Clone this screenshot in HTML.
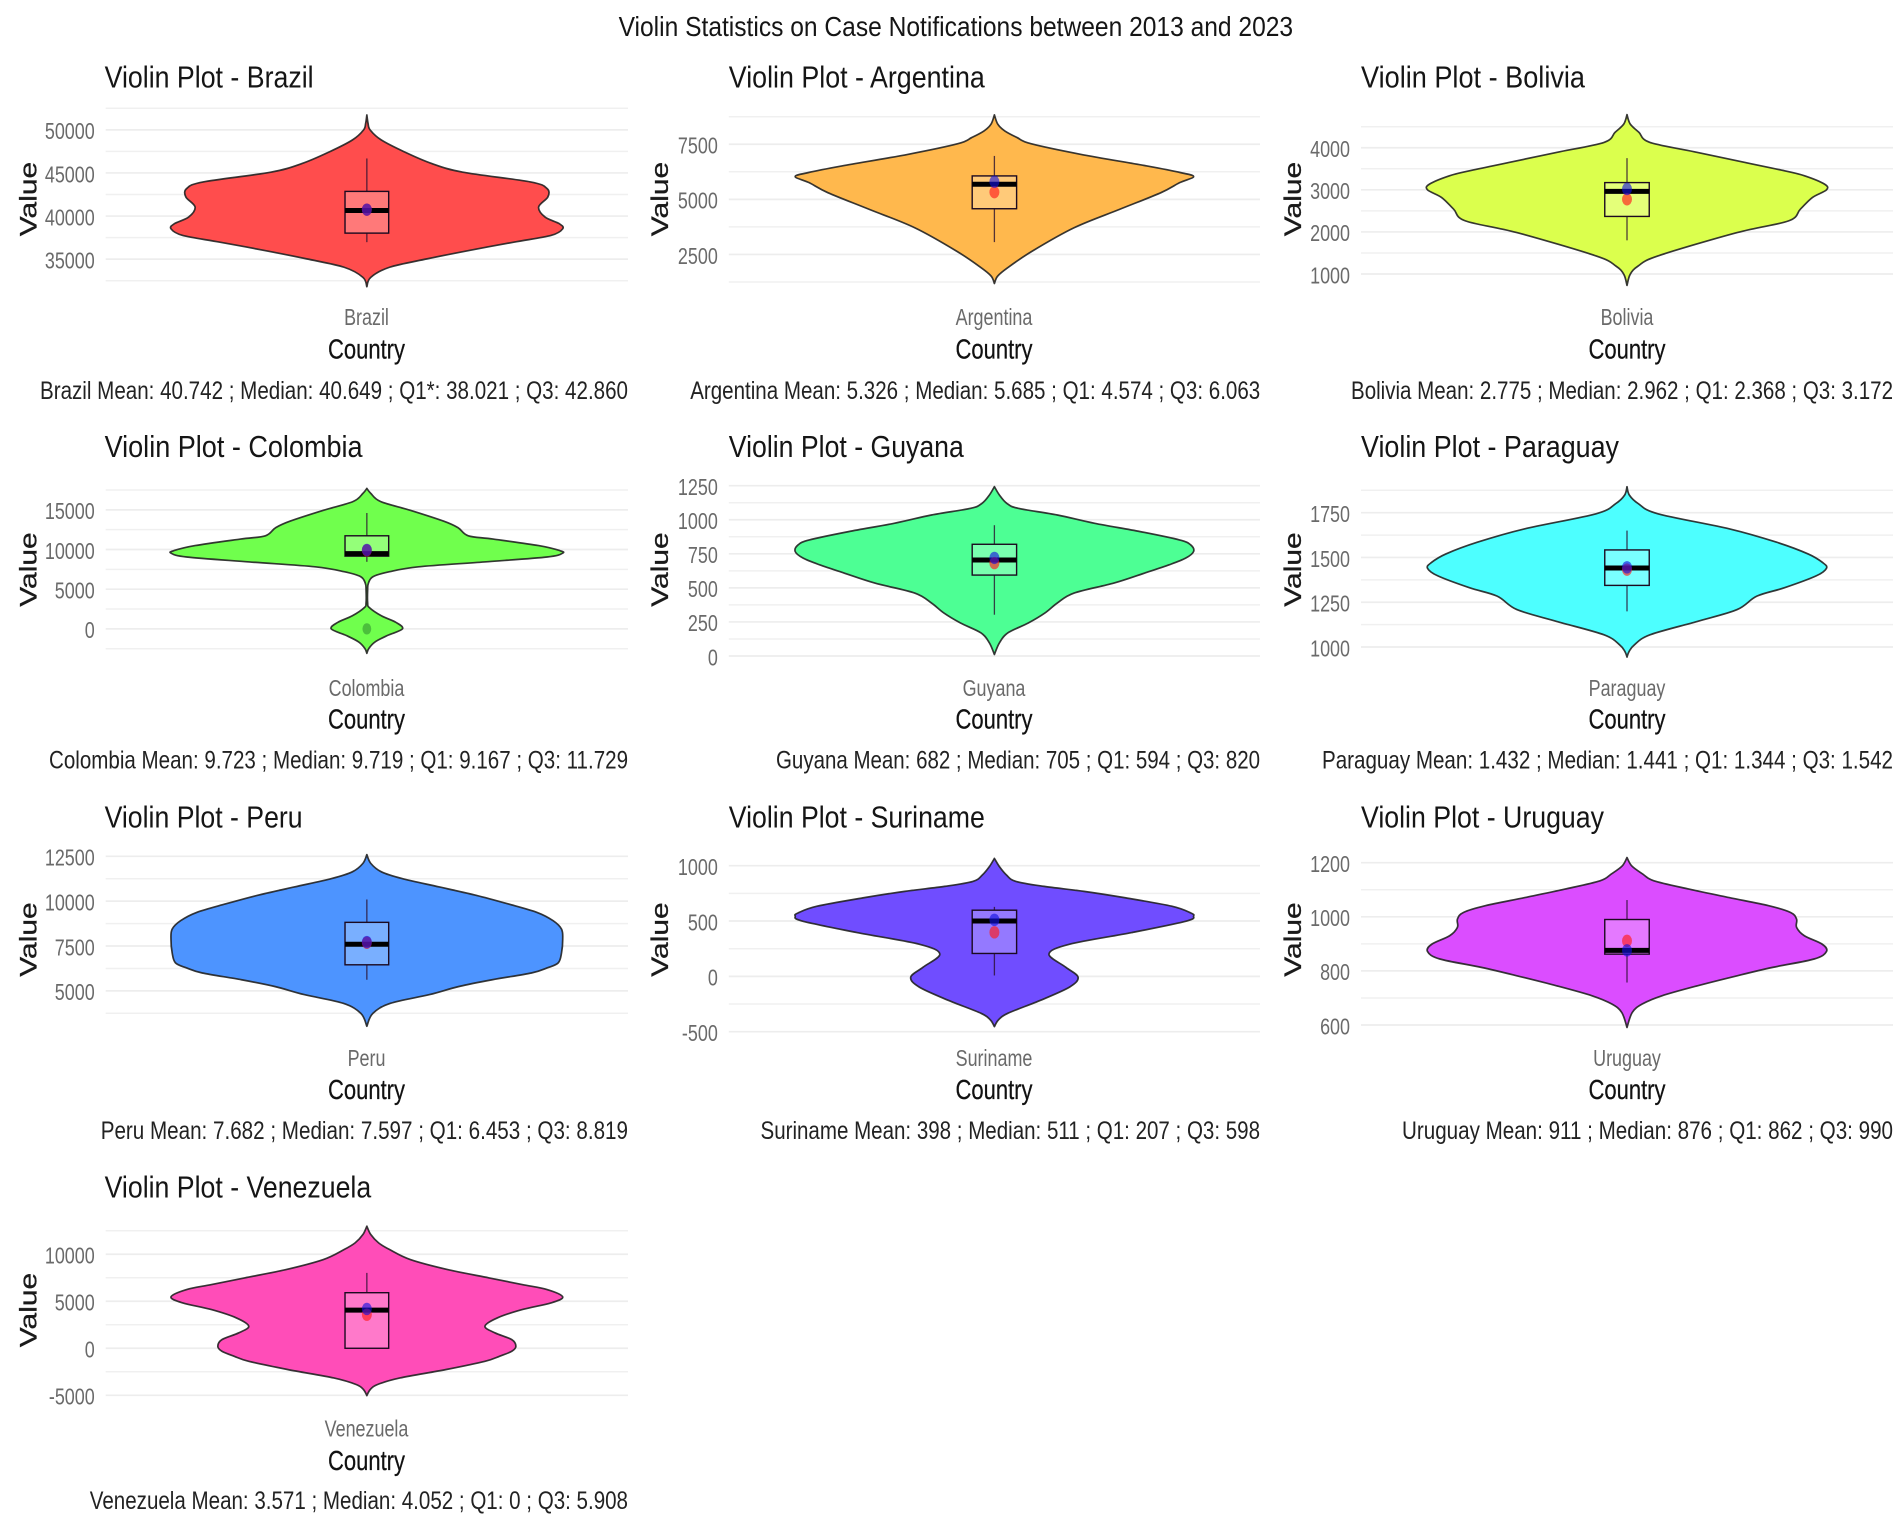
<!DOCTYPE html>
<html lang="en">
<head>
<meta charset="utf-8">
<title>Violin Statistics on Case Notifications between 2013 and 2023</title>
<style>
  html, body { margin: 0; padding: 0; background: #fff; }
  svg { display: block; font-family: "Liberation Sans", sans-serif; }
  .main { font-size: 28px; fill: #151515; }
  .pt { font-size: 30.5px; fill: #151515; }
  .xt { font-size: 23px; fill: #6a6a6a; text-anchor: middle; }
  .xa { font-size: 27.5px; fill: #111; text-anchor: middle; stroke: #111; stroke-width: .25; }
  .ya { font-size: 30px; fill: #1a1a1a; text-anchor: middle; stroke: #1a1a1a; stroke-width: .35; }
  .st { font-size: 25px; fill: #222; }
  .yt { font-size: 23px; fill: #6a6a6a; text-anchor: end; }
</style>
</head>
<body>
<svg id="chart" width="1902" height="1527" viewBox="0 0 1902 1527" xmlns="http://www.w3.org/2000/svg">
  <rect width="1902" height="1527" fill="#fff"/>
  <g id="marks"></g>

  <text class="main" x="618.6" y="36.2" textLength="674.5" lengthAdjust="spacingAndGlyphs">Violin Statistics on Case Notifications between 2013 and 2023</text>

  <text class="pt" x="104.6" y="87.3" textLength="209" lengthAdjust="spacingAndGlyphs">Violin Plot - Brazil</text>
  <text class="pt" x="728.8" y="87.3" textLength="256" lengthAdjust="spacingAndGlyphs">Violin Plot - Argentina</text>
  <text class="pt" x="1361" y="87.3" textLength="224" lengthAdjust="spacingAndGlyphs">Violin Plot - Bolivia</text>
  <text class="pt" x="104.6" y="457" textLength="258" lengthAdjust="spacingAndGlyphs">Violin Plot - Colombia</text>
  <text class="pt" x="728.8" y="457" textLength="235" lengthAdjust="spacingAndGlyphs">Violin Plot - Guyana</text>
  <text class="pt" x="1361" y="457" textLength="258" lengthAdjust="spacingAndGlyphs">Violin Plot - Paraguay</text>
  <text class="pt" x="104.6" y="827.4" textLength="198" lengthAdjust="spacingAndGlyphs">Violin Plot - Peru</text>
  <text class="pt" x="728.8" y="827.4" textLength="256" lengthAdjust="spacingAndGlyphs">Violin Plot - Suriname</text>
  <text class="pt" x="1361" y="827.4" textLength="243" lengthAdjust="spacingAndGlyphs">Violin Plot - Uruguay</text>
  <text class="pt" x="104.6" y="1197.5" textLength="266.6" lengthAdjust="spacingAndGlyphs">Violin Plot - Venezuela</text>

  <text class="xt" transform="translate(366.5,325) scale(.78,1)">Brazil</text>
  <text class="xt" transform="translate(994,325) scale(.78,1)">Argentina</text>
  <text class="xt" transform="translate(1627,325) scale(.78,1)">Bolivia</text>
  <text class="xt" transform="translate(366.5,696) scale(.78,1)">Colombia</text>
  <text class="xt" transform="translate(994,696) scale(.78,1)">Guyana</text>
  <text class="xt" transform="translate(1627,696) scale(.78,1)">Paraguay</text>
  <text class="xt" transform="translate(366.5,1066) scale(.78,1)">Peru</text>
  <text class="xt" transform="translate(994,1066) scale(.78,1)">Suriname</text>
  <text class="xt" transform="translate(1627,1066) scale(.78,1)">Uruguay</text>
  <text class="xt" transform="translate(366.5,1436.5) scale(.78,1)">Venezuela</text>

  <text class="xa" transform="translate(366.5,358.3) scale(.8,1)">Country</text>
  <text class="xa" transform="translate(994,358.3) scale(.8,1)">Country</text>
  <text class="xa" transform="translate(1627,358.3) scale(.8,1)">Country</text>
  <text class="xa" transform="translate(366.5,728.5) scale(.8,1)">Country</text>
  <text class="xa" transform="translate(994,728.5) scale(.8,1)">Country</text>
  <text class="xa" transform="translate(1627,728.5) scale(.8,1)">Country</text>
  <text class="xa" transform="translate(366.5,1099) scale(.8,1)">Country</text>
  <text class="xa" transform="translate(994,1099) scale(.8,1)">Country</text>
  <text class="xa" transform="translate(1627,1099) scale(.8,1)">Country</text>
  <text class="xa" transform="translate(366.5,1470) scale(.8,1)">Country</text>

  <text class="ya" transform="translate(36.5,199) scale(.8,1) rotate(-90)">Value</text>
  <text class="ya" transform="translate(668,199) scale(.8,1) rotate(-90)">Value</text>
  <text class="ya" transform="translate(1301,199) scale(.8,1) rotate(-90)">Value</text>
  <text class="ya" transform="translate(36.5,569.5) scale(.8,1) rotate(-90)">Value</text>
  <text class="ya" transform="translate(668,569.5) scale(.8,1) rotate(-90)">Value</text>
  <text class="ya" transform="translate(1301,569.5) scale(.8,1) rotate(-90)">Value</text>
  <text class="ya" transform="translate(36.5,939.5) scale(.8,1) rotate(-90)">Value</text>
  <text class="ya" transform="translate(668,939.5) scale(.8,1) rotate(-90)">Value</text>
  <text class="ya" transform="translate(1301,939.5) scale(.8,1) rotate(-90)">Value</text>
  <text class="ya" transform="translate(36.5,1310) scale(.8,1) rotate(-90)">Value</text>

  <text class="st" x="40" y="399" textLength="588" lengthAdjust="spacingAndGlyphs">Brazil Mean: 40.742 ; Median: 40.649 ; Q1*: 38.021 ; Q3: 42.860</text>
  <text class="st" x="690.2" y="399" textLength="570" lengthAdjust="spacingAndGlyphs">Argentina Mean: 5.326 ; Median: 5.685 ; Q1: 4.574 ; Q3: 6.063</text>
  <text class="st" x="1351" y="399" textLength="542" lengthAdjust="spacingAndGlyphs">Bolivia Mean: 2.775 ; Median: 2.962 ; Q1: 2.368 ; Q3: 3.172</text>
  <text class="st" x="49" y="768.5" textLength="579" lengthAdjust="spacingAndGlyphs">Colombia Mean: 9.723 ; Median: 9.719 ; Q1: 9.167 ; Q3: 11.729</text>
  <text class="st" x="776" y="768.5" textLength="484" lengthAdjust="spacingAndGlyphs">Guyana Mean: 682 ; Median: 705 ; Q1: 594 ; Q3: 820</text>
  <text class="st" x="1322" y="768.5" textLength="571" lengthAdjust="spacingAndGlyphs">Paraguay Mean: 1.432 ; Median: 1.441 ; Q1: 1.344 ; Q3: 1.542</text>
  <text class="st" x="100.7" y="1139" textLength="527.3" lengthAdjust="spacingAndGlyphs">Peru Mean: 7.682 ; Median: 7.597 ; Q1: 6.453 ; Q3: 8.819</text>
  <text class="st" x="760.5" y="1139" textLength="499.5" lengthAdjust="spacingAndGlyphs">Suriname Mean: 398 ; Median: 511 ; Q1: 207 ; Q3: 598</text>
  <text class="st" x="1402" y="1139" textLength="491" lengthAdjust="spacingAndGlyphs">Uruguay Mean: 911 ; Median: 876 ; Q1: 862 ; Q3: 990</text>
  <text class="st" x="89.8" y="1509" textLength="538.2" lengthAdjust="spacingAndGlyphs">Venezuela Mean: 3.571 ; Median: 4.052 ; Q1: 0 ; Q3: 5.908</text>
</svg>

<script>
// ---------- data ----------
const brazilValues = [51730, 50760, 49985, 48820, 47460, 46100, 45090, 43960, 43190, 42210, 41050, 39880, 39110, 38520, 37750, 36970, 36000, 35030, 34060, 32890, 31800];
const brazilDensity = [0, .006, .017, .074, .19, .33, .49, .835, .92, .924, .877, .91, .983, 1, .94, .75, .52, .307, .116, .02, 0];
const brazilBox = [36970, 38021, 40649, 42860, 46680];
const brazilPoints = [40742, 40742];
const brazilTicks = [35000, 40000, 45000, 50000];
const brazilDomain = [32500, 52500];

const argentinaValues = [8833, 8409, 8106, 7803, 7530, 7045, 6515, 6212, 6030, 5757, 5303, 4545, 3712, 2652, 1894, 1515, 1182];
const argentinaDensity = [0, .017, .052, .114, .181, .432, .765, .935, 1, .93, .836, .628, .40, .19, .066, .016, 0];
const argentinaBox = [3060, 4574, 5685, 6063, 6970];
const argentinaPoints = [5326, 5800];
const argentinaTicks = [2500, 5000, 7500];
const argentinaDomain = [1250, 8750];

const boliviaValues = [4786, 4564, 4365, 4127, 3889, 3651, 3452, 3333, 3135, 3000, 2817, 2540, 2262, 1984, 1429, 1190, 992, 730];
const boliviaDensity = [0, .016, .06, .115, .353, .591, .79, .89, .99, 1, .929, .869, .81, .552, .155, .056, .016, 0];
const boliviaBox = [1800, 2368, 2962, 3172, 3753];
const boliviaPoints = [2775, 3020];
const boliviaTicks = [1000, 2000, 3000, 4000];
const boliviaDomain = [1000, 4500];

const colombiaValues = [17695, 17078, 16049, 14938, 13580, 12757, 11728, 11317, 10494, 9877, 9547, 9054, 8436, 7819, 7202, 6585, 5761, 4938, 3292, 2675, 1647, 824, 0, -823, -1645, -2468, -3086];
const colombiaDensity = [0, .02, .07, .222, .391, .465, .518, .645, .877, .983, 1, .92, .60, .264, .116, .032, .008, .004, .004, .013, .074, .148, .182, .106, .042, .01, 0];
const colombiaBox = [8450, 9167, 9480, 11729, 14600];
const colombiaPoints = [9900, 9950];
const colombiaOutliers = [0];
const colombiaTicks = [0, 5000, 10000, 15000];
const colombiaDomain = [-2500, 17500];

const guyanaValues = [1243, 1182, 1121, 1084, 1035, 974, 913, 852, 816, 767, 718, 669, 608, 535, 462, 389, 316, 242, 169, 96, 11];
const guyanaDensity = [0, .025, .062, .119, .316, .503, .732, .929, .985, 1, .96, .877, .753, .60, .40, .316, .254, .17, .067, .025, 0];
const guyanaBox = [303, 594, 705, 820, 960];
const guyanaPoints = [682, 720];
const guyanaTicks = [0, 250, 500, 750, 1000, 1250];
const guyanaDomain = [0, 1250];

const paraguayValues = [1895, 1848, 1801, 1744, 1660, 1585, 1519, 1472, 1440, 1397, 1331, 1284, 1209, 1143, 1068, 1011, 974, 944];
const paraguayDensity = [0, .012, .056, .155, .512, .75, .909, .98, 1, .948, .79, .651, .552, .353, .115, .036, .01, 0];
const paraguayBox = [1199, 1344, 1441, 1542, 1650];
const paraguayPoints = [1432, 1445];
const paraguayTicks = [1000, 1250, 1500, 1750];
const paraguayDomain = [1000, 1875];

const peruValues = [12595, 12106, 11636, 11260, 10790, 10320, 9850, 9380, 8910, 8440, 7876, 7124, 6560, 6278, 5996, 5620, 5244, 4793, 4304, 3740, 3026];
const peruDensity = [0, .02, .074, .18, .37, .56, .72, .867, .951, .994, 1, .994, .977, .92, .84, .64, .47, .32, .12, .03, 0];
const peruBox = [5620, 6453, 7597, 8819, 10094];
const peruPoints = [7682, 7720];
const peruTicks = [5000, 7500, 10000, 12500];
const peruDomain = [3750, 12500];

const surinameValues = [1066, 992, 917, 858, 813, 768, 709, 634, 574, 545, 500, 396, 291, 202, 83, -7, -96, -215, -334, -394, -454];
const surinameDensity = [0, .025, .06, .108, .25, .45, .66, .89, .985, 1, .965, .69, .378, .274, .358, .42, .378, .233, .067, .02, 0];
const surinameBox = [8, 207, 500, 598, 628];
const surinamePoints = [398, 511];
const surinameTicks = [-500, 0, 500, 1000];
const surinameDomain = [-500, 1000];

const uruguayValues = [1219, 1188, 1158, 1133, 1102, 1071, 1041, 1016, 991, 961, 930, 899, 872, 844, 813, 782, 745, 708, 677, 646, 591];
const uruguayDensity = [0, .024, .079, .135, .313, .512, .71, .82, .85, .85, .889, .978, 1, .938, .73, .552, .353, .175, .075, .026, 0];
const uruguayBox = [757, 862, 876, 990, 1062];
const uruguayPoints = [911, 876];
const uruguayTicks = [600, 800, 1000, 1200];
const uruguayDomain = [600, 1200];

const venezuelaValues = [12978, 12092, 11205, 10496, 9432, 8369, 7482, 6773, 6241, 5461, 4823, 4113, 3227, 2340, 1631, 922, 213, -319, -851, -1383, -2269, -3156, -3865, -4397, -5035];
const venezuelaDensity = [0, .02, .06, .116, .222, .412, .624, .793, .92, 1, .94, .793, .666, .603, .655, .74, .761, .74, .677, .603, .402, .169, .053, .017, 0];
const venezuelaBox = [0, 0, 4052, 5908, 8014];
const venezuelaPoints = [3571, 4180];
const venezuelaTicks = [-5000, 0, 5000, 10000];
const venezuelaDomain = [-5000, 12500];

const seriesNames = ['brazil', 'argentina', 'bolivia', 'colombia', 'guyana', 'paraguay', 'peru', 'suriname', 'uruguay', 'venezuela'];
const seriesValues = [brazilValues, argentinaValues, boliviaValues, colombiaValues, guyanaValues, paraguayValues, peruValues, surinameValues, uruguayValues, venezuelaValues];
const seriesDensity = [brazilDensity, argentinaDensity, boliviaDensity, colombiaDensity, guyanaDensity, paraguayDensity, peruDensity, surinameDensity, uruguayDensity, venezuelaDensity];
const seriesBox = [brazilBox, argentinaBox, boliviaBox, colombiaBox, guyanaBox, paraguayBox, peruBox, surinameBox, uruguayBox, venezuelaBox];
const seriesPoints = [brazilPoints, argentinaPoints, boliviaPoints, colombiaPoints, guyanaPoints, paraguayPoints, peruPoints, surinamePoints, uruguayPoints, venezuelaPoints];
const seriesTicks = [brazilTicks, argentinaTicks, boliviaTicks, colombiaTicks, guyanaTicks, paraguayTicks, peruTicks, surinameTicks, uruguayTicks, venezuelaTicks];
const seriesDomains = [brazilDomain, argentinaDomain, boliviaDomain, colombiaDomain, guyanaDomain, paraguayDomain, peruDomain, surinameDomain, uruguayDomain, venezuelaDomain];

// ---------- layout and style (not data) ----------
const violinColors = ['#FF4D4D', '#FFB84D', '#DBFF4D', '#70FF4D', '#4DFF94', '#4DFFFF', '#4D94FF', '#704DFF', '#DB4DFF', '#FF4DB8'];
const columnEdges = [[105.7, 628], [728.8, 1260], [1361, 1893]];
const plotBands = [[108.3, 280.7], [116.7, 282], [126.7, 274], [490, 648.7], [485.7, 656], [490.3, 647], [856.3, 1013.3], [865.7, 1031.7], [862.7, 1025], [1230.7, 1395.3]];

const SVG_NS = 'http://www.w3.org/2000/svg';
const marks = document.getElementById('marks');

function add(parent, tag, attrs) {
  const el = document.createElementNS(SVG_NS, tag);
  for (const k in attrs) el.setAttribute(k, attrs[k]);
  parent.appendChild(el);
  return el;
}

function smoothSegment(pts) {
  let d = '';
  for (let i = 0; i < pts.length - 1; i++) {
    const p0 = pts[Math.max(0, i - 1)], p1 = pts[i], p2 = pts[i + 1], p3 = pts[Math.min(pts.length - 1, i + 2)];
    const c1x = p1[0] + (p2[0] - p0[0]) / 6, c1y = p1[1] + (p2[1] - p0[1]) / 6;
    const c2x = p2[0] - (p3[0] - p1[0]) / 6, c2y = p2[1] - (p3[1] - p1[1]) / 6;
    d += 'C' + c1x.toFixed(2) + ' ' + c1y.toFixed(2) + ' ' + c2x.toFixed(2) + ' ' + c2y.toFixed(2) + ' ' + p2[0].toFixed(2) + ' ' + p2[1].toFixed(2);
  }
  return d;
}

seriesNames.forEach(function (name, idx) {
  const edges = columnEdges[idx % 3];
  const band = plotBands[idx];
  const domain = seriesDomains[idx];
  const ticks = seriesTicks[idx];
  const centre = (edges[0] + edges[1]) / 2;
  const plotWidth = edges[1] - edges[0];
  const maxHalf = plotWidth * 0.375;
  const boxHalf = plotWidth * 0.0418;
  const yScale = function (v) { return band[1] - (v - domain[0]) / (domain[1] - domain[0]) * (band[1] - band[0]); };
  const xRight = function (d) { return centre + d * maxHalf; };
  const xLeft = function (d) { return centre - d * maxHalf; };

  const panel = add(marks, 'g', {});
  
  

  // gridlines: major at ticks, minor half-way between
  const step = ticks[1] - ticks[0];
  const gridStart = ticks[0] - step * 4;
  for (let k = 0; k <= 40; k++) {
    const v = gridStart + k * step / 2;
    if (v < domain[0] - 1e-6 || v > domain[1] + 1e-6) continue;
    const isMajor = k % 2 === 0;
    const line = add(panel, 'line', { x1: edges[0], x2: edges[1], y1: yScale(v), y2: yScale(v), stroke: isMajor ? '#ededed' : '#f0f0f0', 'stroke-width': isMajor ? 1.7 : 1.5 });
    
    
  }

  // y tick labels
  ticks.forEach(function (t) {
    const label = add(panel, 'text', { class: 'yt', transform: 'translate(' + (edges[0] - 11) + ',' + (yScale(t) + 9.3) + ') scale(.78,1)' });
    label.textContent = String(t);
    
    
  });

  // violin
  const values = seriesValues[idx];
  const density = seriesDensity[idx];
  const right = values.map(function (v, i) { return [xRight(density[i]), yScale(v)]; });
  const left = values.map(function (v, i) { return [xLeft(density[i]), yScale(v)]; }).reverse();
  const outline = 'M' + right[0][0] + ' ' + right[0][1] + smoothSegment(right) + smoothSegment(left) + 'Z';
  const violin = add(panel, 'path', { d: outline, fill: violinColors[idx], stroke: '#222', 'stroke-opacity': .9, 'stroke-width': 1.7, 'stroke-linejoin': 'round' });
  
  

  // box plot: [whisker low, q1, median, q3, whisker high]
  const box = seriesBox[idx];
  const inkColor = '#2a1030';
  const whiskerHigh = add(panel, 'line', { x1: centre, x2: centre, y1: yScale(box[3]), y2: yScale(box[4]), stroke: inkColor, 'stroke-opacity': .8, 'stroke-width': 1.3 });
  
  
  const whiskerLow = add(panel, 'line', { x1: centre, x2: centre, y1: yScale(box[1]), y2: yScale(box[0]), stroke: inkColor, 'stroke-opacity': .8, 'stroke-width': 1.3 });
  
  
  const rect = add(panel, 'rect', { x: centre - boxHalf, width: boxHalf * 2, y: yScale(box[3]), height: yScale(box[1]) - yScale(box[3]), fill: 'rgba(255,255,255,.25)', stroke: '#1c0a20', 'stroke-width': 1.4 });
  
  
  const medianLine = add(panel, 'line', { x1: centre - boxHalf, x2: centre + boxHalf, y1: yScale(box[2]), y2: yScale(box[2]), stroke: '#000', 'stroke-width': 5 });
  
  

  // points: [mean, median marker]
  const points = seriesPoints[idx];
  const meanDot = add(panel, 'ellipse', { cx: centre, cy: yScale(points[0]), rx: 5, ry: 6.2, fill: '#ff1a1a', 'fill-opacity': .65 });
  
  
  const medianDot = add(panel, 'ellipse', { cx: centre, cy: yScale(points[1]), rx: 5, ry: 6.2, fill: '#1010e0', 'fill-opacity': .62 });
  
  

  if (name === 'colombia') {
    colombiaOutliers.forEach(function (v) {
      const outlier = add(panel, 'ellipse', { cx: centre, cy: yScale(v), rx: 4.4, ry: 5.6, fill: '#2f8a2f', 'fill-opacity': .55 });
      
      
    });
  }
});
</script>
</body>
</html>
